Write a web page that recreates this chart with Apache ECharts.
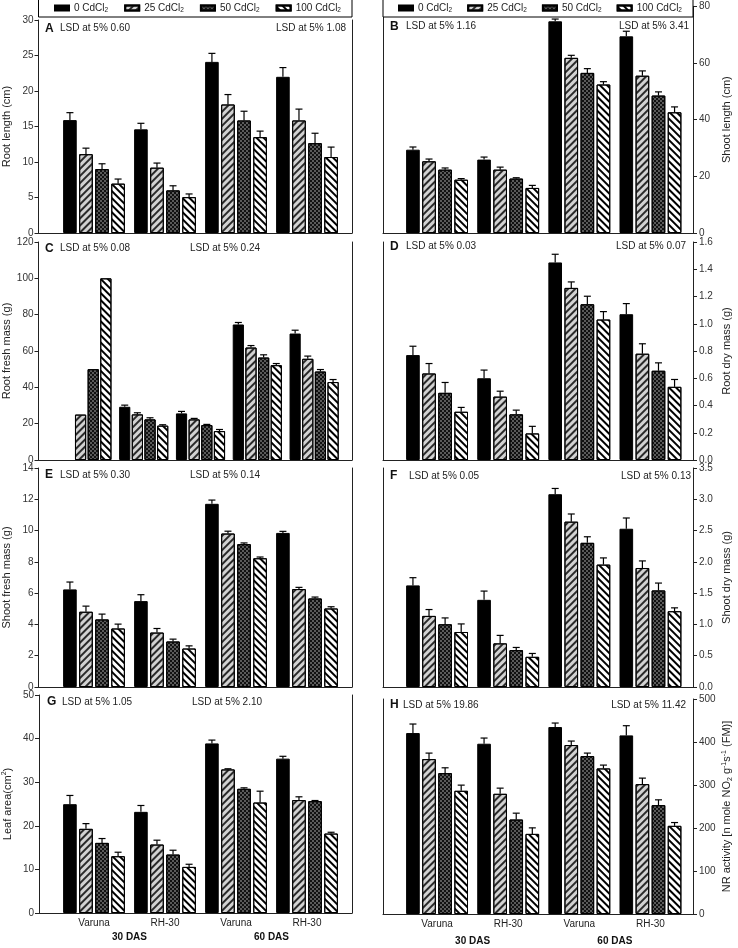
<!DOCTYPE html>
<html><head><meta charset="utf-8">
<script src="https://cdn.jsdelivr.net/npm/echarts@6/dist/echarts.min.js"></script>
<style>html,body{margin:0;padding:0;background:#fff}#c{width:738px;height:948px}</style>
</head><body><div id="c"></div>
<script>
// ---------------- data ----------------
const doses = ['0 CdCl2', '25 CdCl2', '50 CdCl2', '100 CdCl2'];
const cultivars = ['Varuna', 'RH-30', 'Varuna', 'RH-30'];
const cultivarsC = ['', 'Varuna', 'RH-30', 'Varuna', 'RH-30'];
const stages = ['30 DAS', '60 DAS'];

// rows: 0, 25, 50, 100 CdCl2 ; columns: groups
const rootLengthMean = [[15.9, 14.6, 24.1, 22.0], [11.1, 9.2, 18.1, 15.85], [9.0, 6.0, 15.85, 12.65], [6.95, 5.05, 13.5, 10.7]];
const rootLengthErr  = [[1.05, 0.85, 1.2, 1.3], [0.85, 0.65, 1.4, 1.6], [0.75, 0.65, 1.3, 1.4], [0.65, 0.45, 0.85, 1.4]];

const shootLengthMean = [[29.4, 25.9, 74.7, 69.4], [25.3, 22.35, 61.8, 55.5], [22.35, 19.2, 56.5, 48.5], [18.8, 15.9, 52.4, 42.6]];
const shootLengthErr  = [[0.95, 0.9, 0.8, 1.8], [0.8, 0.9, 0.9, 1.7], [0.6, 0.3, 1.5, 1.3], [0.4, 0.9, 1.0, 1.9]];

const rootFreshMean = [[null, 29.3, 25.65, 74.6, 69.6], [25, 25.1, 22.35, 61.9, 55.7], [50, 22.35, 19.2, 56.4, 48.7], [100, 18.9, 15.9, 52.2, 42.9]];
const rootFreshErr  = [[null, 0.9, 1.1, 1.1, 1.85], [null, 0.9, 0.55, 1.1, 1.5], [null, 0.9, 0.4, 1.5, 1.1], [null, 0.5, 0.9, 0.9, 1.4]];

const rootDryMean = [[0.77, 0.60, 1.45, 1.07], [0.635, 0.465, 1.263, 0.78], [0.493, 0.335, 1.143, 0.655], [0.354, 0.195, 1.031, 0.537]];
const rootDryErr  = [[0.065, 0.06, 0.06, 0.078], [0.073, 0.04, 0.044, 0.073], [0.076, 0.031, 0.059, 0.058], [0.032, 0.052, 0.058, 0.054]];

const shootFreshMean = [[6.24, 5.49, 11.71, 9.85], [4.81, 3.48, 9.81, 6.26], [4.32, 2.91, 9.13, 5.66], [3.74, 2.46, 8.23, 5.02]];
const shootFreshErr  = [[0.47, 0.41, 0.24, 0.1], [0.36, 0.26, 0.15, 0.11], [0.34, 0.15, 0.08, 0.09], [0.28, 0.17, 0.08, 0.11]];

const shootDryMean = [[1.624, 1.393, 3.081, 2.529], [1.136, 0.697, 2.642, 1.902], [1.002, 0.589, 2.304, 1.543], [0.879, 0.482, 1.956, 1.211]];
const shootDryErr  = [[0.123, 0.14, 0.092, 0.172], [0.102, 0.128, 0.123, 0.113], [0.102, 0.043, 0.097, 0.118], [0.129, 0.054, 0.107, 0.054]];

const leafAreaMean = [[24.96, 23.2, 38.9, 35.4], [19.3, 15.7, 32.93, 25.9], [16.08, 13.4, 28.48, 25.65], [13.02, 10.57, 25.34, 18.22]];
const leafAreaErr  = [[2.0, 1.46, 0.76, 0.54], [1.2, 1.0, 0.15, 0.75], [1.0, 1.0, 0.23, 0.15], [0.92, 0.61, 2.6, 0.3]];

const nrMean = [[420.8, 396, 434.8, 415.4], [360.2, 279.5, 392.9, 302], [327.6, 219.7, 367.2, 253.1], [286.5, 186.3, 338.5, 205]];
const nrErr  = [[21, 13.2, 9.3, 22.5], [14, 13.2, 9.3, 14], [12.4, 14.8, 7, 12.4], [13.2, 14, 7.8, 7.7]];

const lsdTexts = {
  A: ['LSD at 5% 0.60', 'LSD at 5% 1.08'], B: ['LSD at 5% 1.16', 'LSD at 5% 3.41'],
  C: ['LSD at 5% 0.08', 'LSD at 5% 0.24'], D: ['LSD at 5% 0.03', 'LSD at 5% 0.07'],
  E: ['LSD at 5% 0.30', 'LSD at 5% 0.14'], F: ['LSD at 5% 0.05', 'LSD at 5% 0.13'],
  G: ['LSD at 5% 1.05', 'LSD at 5% 2.10'], H: ['LSD at 5% 19.86', 'LSD at 5% 11.42']
};

// ---------------- layout ----------------
const FONT = 'Liberation Sans, Arial, Helvetica, sans-serif';
const W = 738;
const colFrame = [{ left: 38.5, width: 313.5 }, { left: 383, width: 310 }];
const colOpposite = [352, 383];
const colBars = [{ left: 58.5, width: 284 }, { left: 401.5, width: 284.5 }];

const panels = [
  { k: 'A', col: 0, top: 20, bottom: 233, min: 0, max: 30, iv: 5, name: '{n|Root length (cm)}', mean: rootLengthMean, err: rootLengthErr, cats: cultivars, t: { y: 23.5, key: 45, l1: 60, r2: 346 } },
  { k: 'B', col: 1, top: 6.3, bottom: 233, min: 0, max: 80, iv: 20, name: '{n|Shoot length (cm)}', mean: shootLengthMean, err: shootLengthErr, cats: cultivars, t: { y: 21.5, key: 390, l1: 406, r2: 689 } },
  { k: 'C', col: 0, top: 242, bottom: 460, min: 0, max: 120, iv: 20, name: '{n|Root fresh mass (g)}', mean: rootFreshMean, err: rootFreshErr, cats: cultivarsC, t: { y: 243.5, key: 45, l1: 60, l2: 190 } },
  { k: 'D', col: 1, top: 242, bottom: 460, min: 0, max: 1.6, iv: 0.2, dec: 1, name: '{n|Root dry mass (g)}', mean: rootDryMean, err: rootDryErr, cats: cultivars, t: { y: 241.5, key: 390, l1: 406, r2: 686 } },
  { k: 'E', col: 0, top: 468, bottom: 687, min: 0, max: 14, iv: 2, name: '{n|Shoot fresh mass (g)}', mean: shootFreshMean, err: shootFreshErr, cats: cultivars, t: { y: 470, key: 45, l1: 60, l2: 190 } },
  { k: 'F', col: 1, top: 468, bottom: 687, min: 0, max: 3.5, iv: 0.5, dec: 1, name: '{n|Shoot dry mass (g)}', mean: shootDryMean, err: shootDryErr, cats: cultivars, t: { y: 471, key: 390, l1: 409, r2: 691 } },
  { k: 'G', col: 0, top: 695, bottom: 913, min: 0, max: 50, iv: 10, name: '{n|Leaf area(cm}{sup|2}{n|)}', mean: leafAreaMean, err: leafAreaErr, cats: cultivars, xl: true, dasMargin: 19, t: { y: 697, key: 47, l1: 62, l2: 192 } },
  { k: 'H', col: 1, top: 699, bottom: 914, min: 0, max: 500, iv: 100, name: '{n|NR activity [n mole NO}{sub|2}{n| g}{sup|-1}{n|s}{sup|-1}{n| (FM)]}', mean: nrMean, err: nrErr, cats: cultivars, xl: true, dasMargin: 22, t: { y: 700, key: 390, l1: 403, r2: 686 } }
];

// ---------------- styles ----------------
const barStyles = [
  { color: '#000', borderColor: '#000', borderWidth: 1 },
  { color: '#d2d2d2', borderColor: '#000', borderWidth: 1,
    decal: { symbol: 'rect', symbolSize: 1, color: '#2a2a2a', dashArrayX: [1, 0], dashArrayY: [1.2, 2.2], rotation: -Math.PI / 4 } },
  { color: '#5a5a5a', borderColor: '#000', borderWidth: 1,
    decal: { symbol: 'rect', symbolSize: 1, color: '#111', dashArrayX: [[1.5, 1.5], [0, 1.5, 1.5, 0]], dashArrayY: [1.5, 0], rotation: 0 } },
  { color: '#fff', borderColor: '#000', borderWidth: 1,
    decal: { symbol: 'rect', symbolSize: 1, color: '#000', dashArrayX: [1, 0], dashArrayY: [1.2, 2.2], rotation: Math.PI / 4 } }
];

function errRender(d, n, catGap, barGap) {
  return function (params, api) {
    const x = api.value(0), y = api.value(1), e = api.value(2);
    if (isNaN(y) || isNaN(e)) return null;
    const band = api.size([1, 0])[0];
    const w = band * (1 - catGap) / (n + (n - 1) * barGap);
    const total = n * w + (n - 1) * barGap * w;
    const p0 = api.coord([x, y]);
    const p1 = api.coord([x, y + e]);
    const cx = p0[0] - total / 2 + w / 2 + d * w * (1 + barGap);
    return {
      type: 'group', children: [
        { type: 'line', shape: { x1: cx, y1: p0[1], x2: cx, y2: p1[1] }, style: { stroke: '#000', lineWidth: 1.2 } },
        { type: 'line', shape: { x1: cx - 3.5, y1: p1[1], x2: cx + 3.5, y2: p1[1] }, style: { stroke: '#000', lineWidth: 1.2 } }
      ]
    };
  };
}

const grid = [], xAxis = [], yAxis = [], series = [], title = [];
const axisLineStyle = { color: '#222', width: 1 };
const hiddenAxis = { show: false, axisLine: { show: false, onZero: false }, axisTick: { show: false }, axisLabel: { show: false }, splitLine: { show: false } };

panels.forEach((p) => {
  const fr = colFrame[p.col], br = colBars[p.col];
  const h = p.bottom - p.top;
  const gF = grid.length;
  grid.push({ left: fr.left, width: fr.width, top: p.top, height: h, containLabel: false });
  const gB = grid.length;
  grid.push({ left: br.left, width: br.width, top: p.top, height: h, containLabel: false });
  const gO = grid.length;
  grid.push({ left: colOpposite[p.col], width: 1, top: p.top, height: h, containLabel: false });

  // frame axes
  xAxis.push({ gridIndex: gF, type: 'value', min: 0, max: 1, axisLine: { show: true, onZero: false, lineStyle: axisLineStyle }, axisTick: { show: false }, axisLabel: { show: false }, splitLine: { show: false } });
  yAxis.push({
    gridIndex: gF, type: 'value', position: p.col === 0 ? 'left' : 'right', min: p.min, max: p.max, interval: p.iv,
    axisLine: { show: true, onZero: false, lineStyle: axisLineStyle },
    axisTick: { show: true, inside: false, length: 4, lineStyle: axisLineStyle },
    axisLabel: { fontSize: 10, color: '#333', fontFamily: FONT, margin: p.col === 0 ? 5 : 6,
      formatter: v => p.dec ? v.toFixed(p.dec) : String(Math.round(v)) },
    splitLine: { show: false },
    name: p.name, nameLocation: 'middle', nameRotate: 90, nameGap: p.col === 0 ? 25 : 27.5,
    nameTextStyle: { fontFamily: FONT, color: '#222', rich: {
      n: { fontSize: 11, fontFamily: FONT, color: '#222', lineHeight: 13 },
      sup: { fontSize: 7, fontFamily: FONT, color: '#222', verticalAlign: 'top', lineHeight: 13 },
      sub: { fontSize: 7, fontFamily: FONT, color: '#222', verticalAlign: 'bottom', lineHeight: 13 }
    } }
  });

  // opposite frame line (its own thin grid)
  xAxis.push(Object.assign({ gridIndex: gO, type: 'value', min: 0, max: 1 }, hiddenAxis));
  yAxis.push({ gridIndex: gO, type: 'value', position: 'left', min: 0, max: 1, interval: 1,
    axisLine: { show: true, onZero: false, lineStyle: axisLineStyle },
    axisTick: { show: false }, axisLabel: { show: false }, splitLine: { show: false } });

  // bar axes
  const xB = xAxis.length;
  xAxis.push({ gridIndex: gB, type: 'category', data: p.cats, show: !!p.xl,
    axisLine: { show: false, onZero: false }, axisTick: { show: false }, splitLine: { show: false },
    axisLabel: { show: !!p.xl, fontSize: 10, color: '#222', fontFamily: FONT, margin: 5 } });
  if (p.xl) {
    xAxis.push({ gridIndex: gB, type: 'category', data: stages, position: 'bottom',
      axisLine: { show: false, onZero: false }, axisTick: { show: false }, splitLine: { show: false },
      axisLabel: { fontSize: 10, fontWeight: 'bold', color: '#111', fontFamily: FONT, margin: p.dasMargin } });
  }
  const yB = yAxis.length;
  yAxis.push(Object.assign({ gridIndex: gB, type: 'value', min: p.min, max: p.max }, hiddenAxis));

  const n = p.cats.length;
  const catGap = n === 5 ? 0.135 : 0.13;
  const barGap = n === 5 ? 0.13 : 0.18;
  doses.forEach((d, i) => {
    series.push({
      type: 'bar', name: d, xAxisIndex: xB, yAxisIndex: yB,
      data: p.mean[i], barGap: (barGap * 100) + '%', barCategoryGap: (catGap * 100) + '%',
      itemStyle: barStyles[i], emphasis: { disabled: true }, animation: false
    });
  });
  doses.forEach((d, i) => {
    series.push({
      type: 'custom', name: d, xAxisIndex: xB, yAxisIndex: yB, z: 5,
      renderItem: errRender(i, 4, catGap, barGap),
      encode: { x: 0, y: 1 },
      data: p.mean[i].map((m, j) => [j, m, p.err[i][j]]),
      animation: false, silent: true
    });
  });

  // panel letter and LSD texts
  title.push({ text: p.k, left: p.t.key, top: p.t.y - 1, padding: 0, textStyle: { fontSize: 12, fontWeight: 'bold', color: '#111', fontFamily: FONT } });
  title.push({ text: lsdTexts[p.k][0], left: p.t.l1, top: p.t.y, padding: 0, textStyle: { fontSize: 10, fontWeight: 'normal', color: '#222', fontFamily: FONT } });
  const t2 = { text: lsdTexts[p.k][1], top: p.t.y, padding: 0, textStyle: { fontSize: 10, fontWeight: 'normal', color: '#222', fontFamily: FONT } };
  if (p.t.r2 !== undefined) t2.right = W - p.t.r2; else t2.left = p.t.l2;
  title.push(t2);
});

const legendCommon = {
  top: 3, itemWidth: 14, itemHeight: 5, icon: 'rect', data: doses, selectedMode: false, padding: 0,
  formatter: nm => '{t|' + nm.replace(/2$/, '') + '}{s|2}',
  textStyle: { fontSize: 10, color: '#222', fontFamily: FONT,
    rich: { t: { fontSize: 10, fontFamily: FONT, color: '#222', lineHeight: 12 },
            s: { fontSize: 6.5, fontFamily: FONT, color: '#222', verticalAlign: 'bottom', lineHeight: 12 } } }
};

const option = {
  backgroundColor: '#fff',
  animation: false,
  title: title,
  legend: [Object.assign({ left: 54, itemGap: 16 }, legendCommon), Object.assign({ left: 398, itemGap: 15 }, legendCommon)],
  graphic: [
    { type: 'rect', z: 3, shape: { x: 38.5, y: -0.5, width: 313.5, height: 17.5 }, style: { fill: '#fff', stroke: '#000', lineWidth: 1 } },
    { type: 'rect', z: 3, shape: { x: 383, y: -0.5, width: 310, height: 17.5 }, style: { fill: '#fff', stroke: '#000', lineWidth: 1 } }
  ],
  grid: grid, xAxis: xAxis, yAxis: yAxis, series: series
};

const chart = echarts.init(document.getElementById('c'), null, { renderer: 'canvas' });
chart.setOption(option);
</script></body></html>
